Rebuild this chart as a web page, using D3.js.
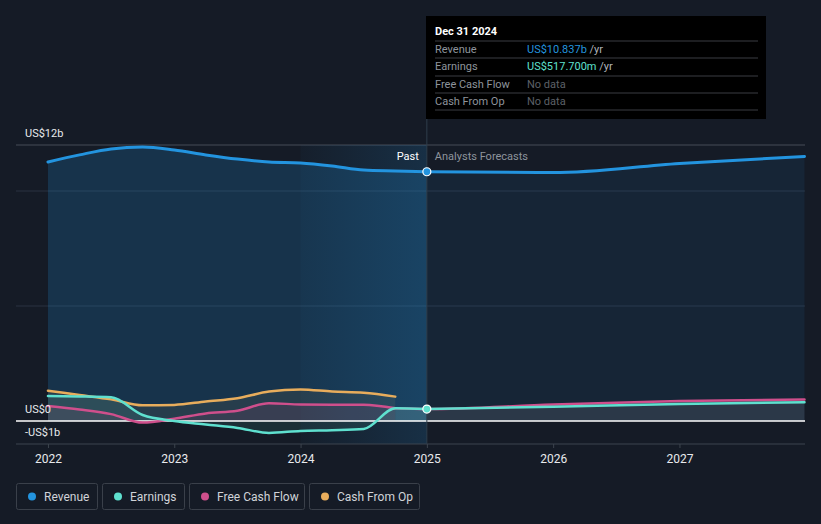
<!DOCTYPE html>
<html><head><meta charset="utf-8">
<script src="https://cdn.jsdelivr.net/npm/d3@7"></script>
<style>
html,body{margin:0;padding:0;background:#151b26;}
svg{display:block;font-family:Roboto,"Noto Sans",sans-serif;}
</style></head>
<body><svg id="c" width="821" height="524"></svg>
<script>
// ---- data (US$ billions, decimal years) ----
const pastDates = [2022.0,2022.25,2022.5,2022.75,2023.0,2023.25,2023.5,2023.75,2024.0,2024.25,2024.5,2024.75,2025.0];
const revenuePast = [11.26,11.57,11.83,11.91,11.78,11.57,11.39,11.26,11.22,11.09,10.91,10.87,10.837];
const earningsPast = [1.09,1.07,1.03,0.26,0.0,-0.15,-0.3,-0.52,-0.43,-0.4,-0.35,0.55,0.5177];
const cashDates = [2022.0,2022.25,2022.5,2022.75,2023.0,2023.25,2023.5,2023.75,2024.0,2024.25,2024.5,2024.75];
const fcfPast = [0.65,0.5,0.3,-0.07,0.1,0.33,0.45,0.77,0.72,0.71,0.71,0.55];
const cfoPast = [1.32,1.13,0.94,0.68,0.7,0.85,0.99,1.28,1.37,1.28,1.23,1.06];
const fcDates = [2025.0,2026.0,2027.0,2027.99];
const revenueFc = [10.837,10.8,11.2,11.5];
const earningsFc = [0.5177,0.62,0.74,0.82];
const fcfFcDates = [2024.75,2025.0,2026.0,2027.0,2027.99];
const fcfFc = [0.55,0.52,0.72,0.87,0.94];
const yearTicks = [2022,2023,2024,2025,2026,2027];
const yLabels = [{v:12,t:"US$12b"},{v:0,t:"US$0"},{v:-1,t:"-US$1b"}];
const gridVals = [10,5];
const legendItems = ["Revenue","Earnings","Free Cash Flow","Cash From Op"];
const tipRows = [["Revenue","US$10.837b"],["Earnings","US$517.700m"],["Free Cash Flow","No data"],["Cash From Op","No data"]];

const colors = {rev:"#2394df", earn:"#5fe0cf", fcf:"#cf4f8c", cfo:"#e8ad5c"};
const svg = d3.select("#c");
const x = d3.scaleLinear().domain([2021.747, 2027.994]).range([16, 805]);
const y = d3.scaleLinear().domain([-1, 12]).range([444, 145]);

const zip = (d, v) => d.map((t,i)=>({t, v:v[i]}));
const line = d3.line().x(d=>x(d.t)).y(d=>y(d.v)).curve(d3.curveMonotoneX);
const area = d3.area().x(d=>x(d.t)).y0(y(0)).y1(d=>y(d.v)).curve(d3.curveMonotoneX);

const defs = svg.append("defs");
const g1 = defs.append("linearGradient").attr("id","band").attr("x1","0").attr("x2","1").attr("y1","0").attr("y2","0");
g1.append("stop").attr("offset","0").attr("stop-color","#2394df").attr("stop-opacity",0.03);
g1.append("stop").attr("offset","1").attr("stop-color","#2394df").attr("stop-opacity",0.17);

// grid
svg.append("line").attr("x1",16).attr("x2",805).attr("y1",y(12)).attr("y2",y(12)).attr("stroke","#474d57").attr("stroke-width",1);
gridVals.forEach(v=>svg.append("line").attr("x1",16).attr("x2",805).attr("y1",y(v)).attr("y2",y(v)).attr("stroke","#2a3340").attr("stroke-width",1));

// revenue areas
svg.append("path").datum(zip(pastDates,revenuePast)).attr("d",area).attr("fill","#2394df").attr("fill-opacity",0.2);
svg.append("path").datum(zip(fcDates,revenueFc)).attr("d",area).attr("fill","#2394df").attr("fill-opacity",0.09);

// past band
svg.append("rect").attr("x",x(2024)).attr("y",y(12)).attr("width",x(2025)-x(2024)).attr("height",y(-1)-y(12)).attr("fill","url(#band)");

// small series fills
svg.append("path").datum(zip(cashDates,cfoPast)).attr("d",area).attr("fill",colors.cfo).attr("fill-opacity",0.08);
svg.append("path").datum(zip(pastDates,earningsPast)).attr("d",area).attr("fill",colors.earn).attr("fill-opacity",0.1);
svg.append("path").datum(zip(cashDates,fcfPast)).attr("d",area).attr("fill",colors.fcf).attr("fill-opacity",0.1);
svg.append("path").datum(zip(fcfFcDates,fcfFc)).attr("d",area).attr("fill","#ffffff").attr("fill-opacity",0.09);

// axis lines
svg.append("line").attr("x1",16).attr("x2",805).attr("y1",y(-1)).attr("y2",y(-1)).attr("stroke","#3d444e");
svg.append("line").attr("x1",16).attr("x2",805).attr("y1",y(0)).attr("y2",y(0)).attr("stroke","#ffffff").attr("stroke-width",1.3);

// lines
const drawLine=(data,c,w)=>svg.append("path").datum(data).attr("d",line).attr("fill","none").attr("stroke",c).attr("stroke-width",w).attr("stroke-linecap","round");
drawLine(zip(cashDates,cfoPast),colors.cfo,2.5);
drawLine(zip(cashDates,fcfPast),colors.fcf,2.5);
drawLine(zip(fcfFcDates,fcfFc),colors.fcf,2.5);
drawLine(zip(pastDates,earningsPast),colors.earn,2.5);
drawLine(zip(fcDates,earningsFc),colors.earn,2.5);
drawLine(zip(pastDates,revenuePast),colors.rev,3);
drawLine(zip(fcDates,revenueFc),colors.rev,3);

// x axis
const xAxis = d3.axisBottom(x).tickValues(yearTicks).tickFormat(d3.format("d")).tickSize(4).tickPadding(6);
const ax = svg.append("g").attr("transform",`translate(0,${y(-1)})`).call(xAxis);
ax.select(".domain").remove();
ax.selectAll("line").attr("stroke","#3d444e");
ax.selectAll("text").attr("fill","#e8eaed").attr("font-size",12).attr("font-family","Roboto,sans-serif");

// y labels
yLabels.forEach(l=>svg.append("text").attr("x",25).attr("y",y(l.v)-8.5).attr("fill","#e8eaed").attr("font-size",11).text(l.t));

// past / forecast labels
svg.append("text").attr("x",x(2025)-8).attr("y",160).attr("text-anchor","end").attr("fill","#ffffff").attr("font-size",11).text("Past");
svg.append("text").attr("x",x(2025)+8).attr("y",160).attr("fill","#8e949c").attr("font-size",11).text("Analysts Forecasts");

// tooltip line + box
svg.append("line").attr("x1",x(2025)).attr("x2",x(2025)).attr("y1",16).attr("y2",y(-1)).attr("stroke","#2f3d4c").attr("stroke-width",1);
svg.append("rect").attr("x",426).attr("y",16).attr("width",340).attr("height",103).attr("fill","#000000");
svg.append("text").attr("x",435).attr("y",35).attr("fill","#ffffff").attr("font-size",11).attr("font-weight","bold").text("Dec 31 2024");
const rowY = [41,58,76,93,110];
rowY.forEach(ry=>svg.append("line").attr("x1",435).attr("x2",758).attr("y1",ry).attr("y2",ry).attr("stroke","#3a3d42"));
const valColors=[colors.rev,colors.earn,"#5d6168","#5d6168"];
tipRows.forEach((r,i)=>{
  const ty = rowY[i]+12;
  svg.append("text").attr("x",435).attr("y",ty).attr("fill","#8e949c").attr("font-size",11).text(r[0]);
  const t = svg.append("text").attr("x",527).attr("y",ty).attr("font-size",11);
  t.append("tspan").attr("fill",valColors[i]).text(r[1]);
  if(i<2) t.append("tspan").attr("fill","#b0b4ba").text(" /yr");
});

// dots
svg.append("circle").attr("cx",x(2025)).attr("cy",y(10.837)).attr("r",4).attr("fill",colors.rev).attr("stroke","#ffffff").attr("stroke-width",1.2);
svg.append("circle").attr("cx",x(2025)).attr("cy",y(0.5177)).attr("r",4).attr("fill",colors.earn).attr("stroke","#ffffff").attr("stroke-width",1.2);

// legend
const legColors=[colors.rev,colors.earn,colors.fcf,colors.cfo];
const boxes=[[16,81],[102,82],[189,115],[309,110]];
legendItems.forEach((n,i)=>{
  const [bx,bw]=boxes[i];
  svg.append("rect").attr("x",bx+0.5).attr("y",483.5).attr("width",bw).attr("height",26).attr("rx",2).attr("fill","none").attr("stroke","#3a404a");
  svg.append("circle").attr("cx",bx+16).attr("cy",496.5).attr("r",4).attr("fill",legColors[i]);
  svg.append("text").attr("x",bx+28).attr("y",500.5).attr("fill","#d0d3d8").attr("font-size",12).text(n);
});
</script></body></html>
